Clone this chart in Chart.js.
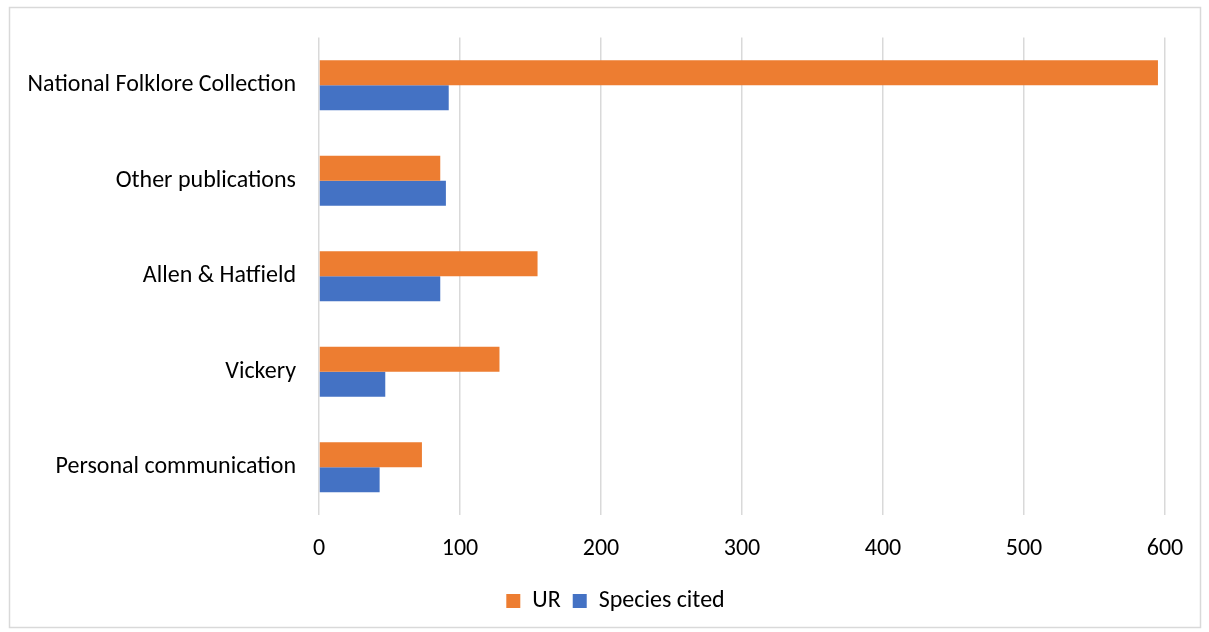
<!DOCTYPE html>
<html>
<head>
<meta charset="utf-8">
<script src="https://cdn.jsdelivr.net/npm/chart.js@4/dist/chart.umd.min.js"></script>
<style>
html,body{margin:0;padding:0;background:#fff;}
#wrap{position:absolute;left:0;top:0;width:1209px;height:632px;}
</style>
</head>
<body>
<div id="wrap"><canvas id="c" width="1209" height="632"></canvas></div>
<script>
const categories = ["National Folklore Collection", "Other publications", "Allen & Hatfield", "Vickery", "Personal communication"];
const urValues = [595, 86, 155, 128, 73];
const speciesValues = [92, 90, 86, 47, 43];
const seriesNames = ["UR", "Species cited"];
const xTicks = [0, 100, 200, 300, 400, 500, 600];

const FONT = "Carlito, Lato, 'Liberation Sans', sans-serif";

const borderPlugin = {
  id: 'outerBorder',
  beforeDraw(chart) {
    const ctx = chart.ctx;
    ctx.save();
    ctx.fillStyle = '#fff';
    ctx.fillRect(0, 0, chart.width, chart.height);
    ctx.strokeStyle = '#D9D9D9';
    ctx.lineWidth = 1.5;
    ctx.strokeRect(9.5, 7.5, 1191, 620);
    ctx.restore();
  },
  afterLayout(chart) {
    const lg = chart.legend;
    if (lg) { lg.left += 28; lg.right += 28; }
  }
};

new Chart(document.getElementById('c'), {
  type: 'bar',
  data: {
    labels: categories,
    datasets: [
      { label: seriesNames[0], data: urValues, backgroundColor: '#ED7D31', borderWidth: 0 },
      { label: seriesNames[1], data: speciesValues, backgroundColor: '#4472C4', borderWidth: 0 }
    ]
  },
  options: {
    indexAxis: 'y',
    responsive: false,
    animation: false,
    devicePixelRatio: 1,
    layout: { padding: { left: 10, right: 44, top: 36, bottom: 9 } },
    datasets: { bar: { barPercentage: 1.0, categoryPercentage: 0.523 } },
    scales: {
      x: {
        min: 0, max: 600,
        afterBuildTicks(scale) { scale.ticks = xTicks.map(v => ({ value: v })); },
        grid: { color: '#D9D9D9', lineWidth: 1.5, drawTicks: false },
        border: { display: false },
        ticks: { color: '#000', font: { family: FONT, size: 24 }, padding: 20 },
        afterFit(scale) { scale.height = 62; }
      },
      y: {
        grid: { display: false, drawTicks: false },
        border: { display: false },
        ticks: { color: '#000', font: { family: FONT, size: 24 }, padding: 23 },
        afterFit(scale) { scale.width = 309; }
      }
    },
    plugins: {
      legend: {
        position: 'bottom',
        labels: {
          color: '#000',
          font: { family: FONT, size: 24 },
          boxWidth: 14, boxHeight: 14,
          padding: 12
        }
      },
      tooltip: { enabled: false }
    }
  },
  plugins: [borderPlugin]
});
</script>
</body>
</html>
